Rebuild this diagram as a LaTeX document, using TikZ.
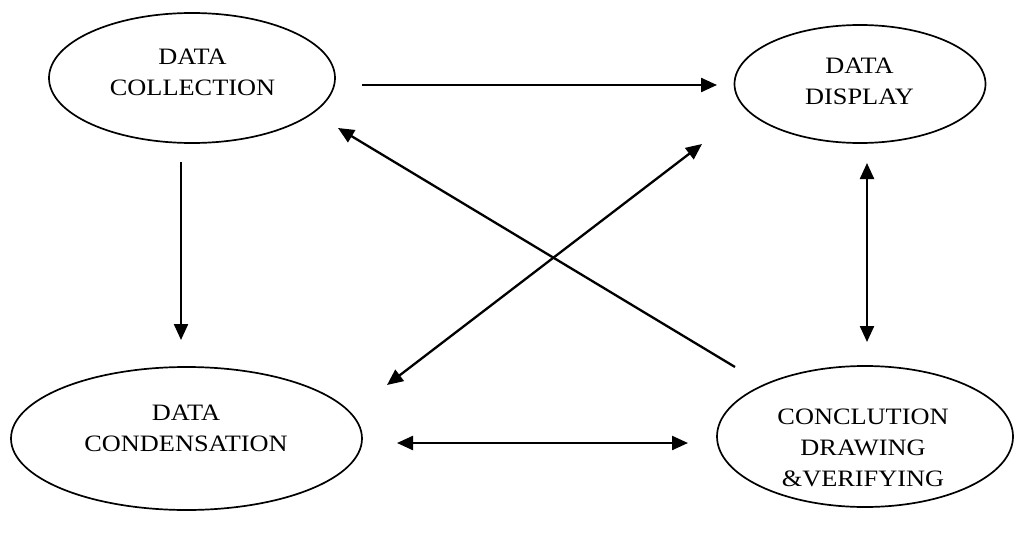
\documentclass[tikz,border=0pt]{standalone}
\usepackage{fontspec}
\setmainfont[FakeStretch=1.12]{Liberation Serif}
\usetikzlibrary{shapes.geometric,arrows.meta}
\begin{document}
\begin{tikzpicture}[x=1pt,y=-1pt,
  oval/.style={draw,ellipse,line width=1.7pt,inner sep=0pt},
  lbl/.style={align=center,inner sep=0pt,font=\fontsize{23.5}{31}\selectfont},
  conn/.style={line width=2.3pt,-{Triangle[length=16pt,width=14pt]}},
  dconn/.style={line width=2.3pt,{Triangle[length=16pt,width=14pt]}-{Triangle[length=16pt,width=14pt]}}]
\useasboundingbox (0,0) rectangle (1017,551);
% ellipses
\node[oval,minimum width=286pt,minimum height=130pt] (col) at (192,78) {};
\node[oval,minimum width=251pt,minimum height=118pt] (disp) at (860,84) {};
\node[oval,minimum width=351pt,minimum height=143pt] (cond) at (186.5,438.5) {};
\node[oval,minimum width=296pt,minimum height=141pt] (concl) at (865,436.5) {};
% labels
\node[lbl] (tcol) at (192.5,72.5) {DATA\\COLLECTION};
\node[lbl] (tdisp) at (859.5,81) {DATA\\DISPLAY};
\node[lbl] (tcond) at (186,428.5) {DATA\\CONDENSATION};
\node[lbl] (tconcl) at (863,447.5) {CONCLUTION\\DRAWING\\\&VERIFYING};
% connector ends
\coordinate (a1s) at (362,85);  \coordinate (a1e) at (717,85);
\coordinate (a2s) at (181,162); \coordinate (a2e) at (181,340);
\coordinate (a3s) at (735,367); \coordinate (a3e) at (338,128);
\coordinate (a4s) at (387,385); \coordinate (a4e) at (702,144);
\coordinate (a5s) at (867,163); \coordinate (a5e) at (867,342);
\coordinate (a6s) at (397,443); \coordinate (a6e) at (688,443);
% connectors
\draw[conn] (a1s) -- (a1e);
\draw[conn] (a2s) -- (a2e);
\draw[conn] (a3s) -- (a3e);
\draw[dconn] (a4s) -- (a4e);
\draw[dconn] (a5s) -- (a5e);
\draw[dconn] (a6s) -- (a6e);
\end{tikzpicture}
\end{document}
